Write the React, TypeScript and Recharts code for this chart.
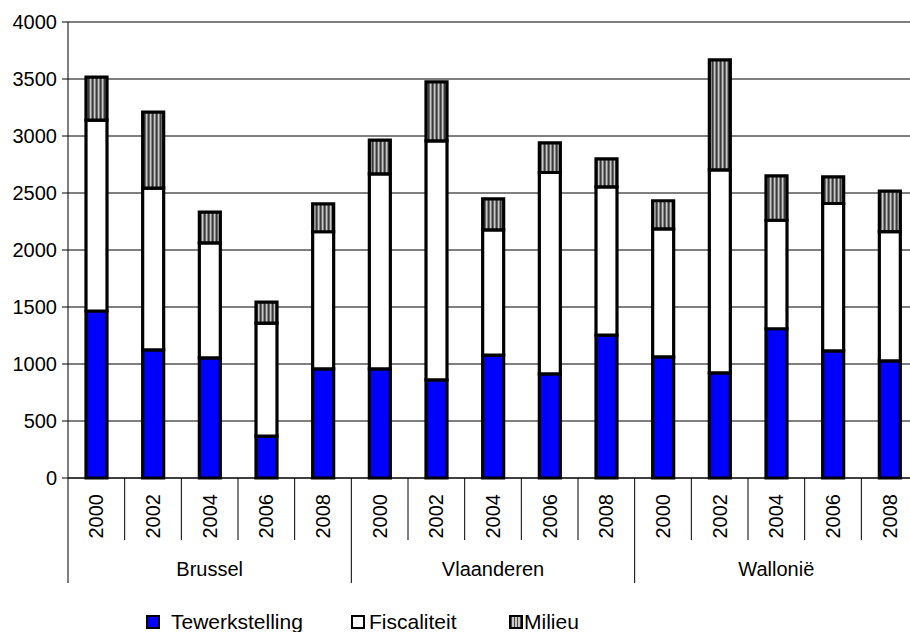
import React from 'react'
import { BarChart, Bar, XAxis, YAxis, CartesianGrid } from 'recharts'

const regions = ['Brussel', 'Vlaanderen', 'Wallonië']
const years = ['2000', '2002', '2004', '2006', '2008']
const yTicks = [0, 500, 1000, 1500, 2000, 2500, 3000, 3500, 4000]

// per region, per year (Brussel, Vlaanderen, Wallonië)
const tewerkstelling = [1465, 1124, 1054, 367, 958, 958, 861, 1077, 914, 1253, 1063, 923, 1309, 1116, 1028]
const fiscaliteit = [1675, 1418, 1009, 991, 1202, 1710, 2097, 1100, 1766, 1301, 1123, 1780, 952, 1292, 1134]
const milieu = [376, 667, 269, 184, 245, 295, 517, 272, 260, 246, 246, 965, 390, 234, 354]

const FONT = '"Liberation Sans", Arial, sans-serif'
const CHART_W = 930
const CHART_H = 632
const MARGIN = { top: 22, right: 12, left: 0, bottom: 49 }
const Y_AXIS_W = 68
const X_AXIS_H = 105

const data = regions.flatMap((region, r) =>
  years.map((year, y) => {
    const i = r * years.length + y
    return {
      id: `${region}|${year}`,
      tewerkstelling: tewerkstelling[i],
      fiscaliteit: fiscaliteit[i],
      milieu: milieu[i],
    }
  })
)

const band = (CHART_W - MARGIN.left - MARGIN.right - Y_AXIS_W) / data.length

function YearTick(props: any) {
  const { x, y, payload } = props
  const [region, year] = String(payload.value).split('|')
  const pos = years.indexOf(year)
  const isLast = region === regions[regions.length - 1] && pos === years.length - 1
  return (
    <g>
      <line x1={x - band / 2} x2={x - band / 2} y1={y} y2={y + (pos === 0 ? 105 : 62)} stroke="#000" />
      {isLast && <line x1={x + band / 2} x2={x + band / 2} y1={y} y2={y + 105} stroke="#000" />}
      <text
        transform={`translate(${x},${y + 16}) rotate(-90)`}
        textAnchor="end"
        dominantBaseline="central"
        fontSize={20}
        fontFamily={FONT}
        fill="#000"
      >
        {year}
      </text>
      {pos === 2 && (
        <text x={x} y={y + 91} textAnchor="middle" dominantBaseline="central" fontSize={20} fontFamily={FONT} fill="#000">
          {region}
        </text>
      )}
    </g>
  )
}

const legendItems = [
  { label: 'Tewerkstelling', left: 146, gap: 11, bg: '#0000ff' },
  { label: 'Fiscaliteit', left: 351, gap: 4, bg: '#ffffff' },
  { label: 'Milieu', left: 509, gap: 1, bg: 'repeating-linear-gradient(90deg, #4a4a4a 0px, #4a4a4a 1.5px, #c8c8c8 1.5px, #c8c8c8 3px)' },
]

export default function App() {
  return (
    <div
      style={{
        position: 'fixed',
        left: 0,
        top: 0,
        width: 910,
        height: 632,
        overflow: 'hidden',
        background: '#fff',
        fontFamily: FONT,
      }}
    >
      <BarChart width={CHART_W} height={CHART_H} data={data} margin={MARGIN}>
        <defs>
          <pattern id="milieuStripes" width={4} height={4} patternUnits="userSpaceOnUse">
            <rect width={4} height={4} fill="#6a6a6a" />
            <rect x={0} width={1} height={4} fill="#3a3a3a" />
            <rect x={2} width={1.3} height={4} fill="#c8c8c8" />
          </pattern>
        </defs>
        <CartesianGrid vertical={false} stroke="#000" strokeWidth={1} />
        <XAxis
          dataKey="id"
          interval={0}
          height={X_AXIS_H}
          tickLine={false}
          tickSize={0}
          tickMargin={0}
          axisLine={{ stroke: '#000' }}
          tick={<YearTick />}
        />
        <YAxis
          width={Y_AXIS_W}
          domain={[0, 4000]}
          ticks={yTicks}
          interval={0}
          tickSize={6}
          tickMargin={5}
          axisLine={{ stroke: '#000' }}
          tickLine={{ stroke: '#000' }}
          tick={{ fontSize: 20, fill: '#000', fontFamily: FONT }}
        />
        <Bar dataKey="tewerkstelling" stackId="a" barSize={21} fill="#0000ff" stroke="#000" strokeWidth={3.2} isAnimationActive={false} />
        <Bar dataKey="fiscaliteit" stackId="a" barSize={21} fill="#ffffff" stroke="#000" strokeWidth={3.2} isAnimationActive={false} />
        <Bar dataKey="milieu" stackId="a" barSize={21} fill="url(#milieuStripes)" stroke="#000" strokeWidth={3.2} isAnimationActive={false} />
      </BarChart>
      {legendItems.map((item) => (
        <div
          key={item.label}
          style={{
            position: 'absolute',
            left: item.left,
            top: 609,
            height: 26,
            display: 'flex',
            alignItems: 'center',
            fontSize: 21,
            color: '#000',
            whiteSpace: 'nowrap',
          }}
        >
          <span
            style={{
              display: 'inline-block',
              width: 10,
              height: 10,
              border: '2px solid #000',
              background: item.bg,
              marginRight: item.gap,
            }}
          />
          {item.label}
        </div>
      ))}
    </div>
  )
}
